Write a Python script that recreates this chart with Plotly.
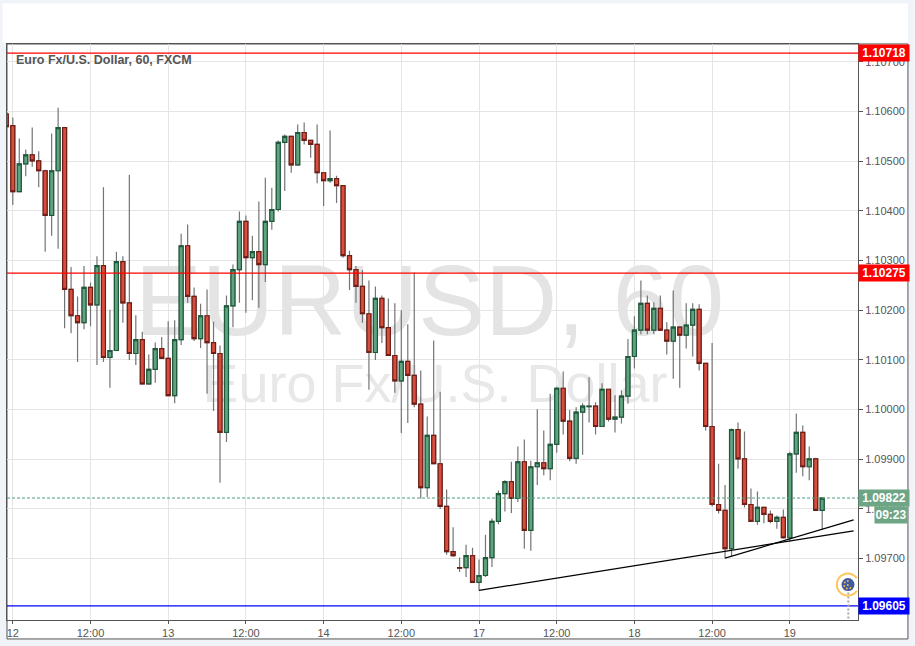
import math
import plotly.graph_objects as go

# EUR/USD hourly bars, first bar is cut off by the left edge
bars = list(range(-1, 126))
opens = [
    1.10595, 1.10572, 1.10439, 1.10495, 1.10513, 1.10501, 1.10481, 1.10391, 1.10481, 1.10568,
    1.10242, 1.10189, 1.10175, 1.10246, 1.10211, 1.10290, 1.10105, 1.10119, 1.10298, 1.10215,
    1.10113, 1.10141, 1.10052, 1.10081, 1.10123, 1.10103, 1.10028, 1.10141, 1.10330, 1.10228,
    1.10143, 1.10189, 1.10135, 1.10113, 1.09954, 1.10209, 1.10282, 1.10379, 1.10306, 1.10318,
    1.10292, 1.10379, 1.10403, 1.10538, 1.10550, 1.10493, 1.10558, 1.10542, 1.10534, 1.10477,
    1.10461, 1.10465, 1.10451, 1.10310, 1.10282, 1.10248, 1.10193, 1.10115, 1.10224, 1.10165,
    1.10109, 1.10058, 1.10097, 1.10069, 1.10011, 1.09843, 1.09948, 1.09891, 1.09805, 1.09714,
    1.09682, 1.09682, 1.09706, 1.09652, 1.09666, 1.09702, 1.09775, 1.09831, 1.09855, 1.09821,
    1.09895, 1.09757, 1.09885, 1.09893, 1.09881, 1.09930, 1.10043, 1.09977, 1.09902, 1.09995,
    1.10006, 1.10007, 1.09966, 1.10041, 1.09981, 1.09985, 1.10027, 1.10107, 1.10160, 1.10214,
    1.10160, 1.10204, 1.10160, 1.10138, 1.10166, 1.10150, 1.10170, 1.10202, 1.10093, 1.09966,
    1.09809, 1.09797, 1.09720, 1.09960, 1.09901, 1.09809, 1.09775, 1.09803, 1.09789, 1.09775,
    1.09783, 1.09742, 1.09911, 1.09954, 1.09885, 1.09901, 1.09797,
]
highs = [
    1.10595, 1.10588, 1.10546, 1.10524, 1.10568, 1.10520, 1.10483, 1.10556, 1.10608, 1.10568,
    1.10287, 1.10228, 1.10289, 1.10256, 1.10309, 1.10448, 1.10201, 1.10318, 1.10309, 1.10473,
    1.10190, 1.10157, 1.10111, 1.10135, 1.10146, 1.10178, 1.10180, 1.10354, 1.10373, 1.10246,
    1.10213, 1.10242, 1.10177, 1.10129, 1.10230, 1.10292, 1.10399, 1.10391, 1.10350, 1.10419,
    1.10467, 1.10447, 1.10542, 1.10554, 1.10550, 1.10574, 1.10578, 1.10542, 1.10574, 1.10477,
    1.10562, 1.10471, 1.10451, 1.10320, 1.10289, 1.10281, 1.10260, 1.10248, 1.10230, 1.10224,
    1.10214, 1.10200, 1.10172, 1.10276, 1.10079, 1.09986, 1.10139, 1.10036, 1.09839, 1.09763,
    1.09702, 1.09728, 1.09722, 1.09698, 1.09748, 1.09781, 1.09837, 1.09858, 1.09895, 1.09926,
    1.09940, 1.09897, 1.10001, 1.09958, 1.10032, 1.10046, 1.10077, 1.09999, 1.10005, 1.10013,
    1.10065, 1.10015, 1.10053, 1.10041, 1.10029, 1.10039, 1.10142, 1.10188, 1.10260, 1.10230,
    1.10216, 1.10230, 1.10176, 1.10240, 1.10168, 1.10214, 1.10214, 1.10212, 1.10093, 1.10134,
    1.09891, 1.09848, 1.09962, 1.09974, 1.09956, 1.09841, 1.09835, 1.09803, 1.09797, 1.09787,
    1.09799, 1.09915, 1.09992, 1.09968, 1.09926, 1.09903, 1.09822,
]
lows = [
    1.10570, 1.10412, 1.10439, 1.10470, 1.10489, 1.10448, 1.10318, 1.10350, 1.10324, 1.10164,
    1.10154, 1.10096, 1.10162, 1.10168, 1.10090, 1.10096, 1.10044, 1.10119, 1.10175, 1.10100,
    1.10090, 1.10052, 1.10050, 1.10054, 1.10103, 1.10028, 1.10013, 1.10130, 1.10215, 1.10138,
    1.10124, 1.10032, 1.09997, 1.09853, 1.09935, 1.10166, 1.10215, 1.10195, 1.10220, 1.10205,
    1.10257, 1.10362, 1.10399, 1.10440, 1.10477, 1.10491, 1.10534, 1.10507, 1.10456, 1.10410,
    1.10457, 1.10416, 1.10306, 1.10241, 1.10215, 1.10175, 1.10040, 1.10100, 1.10134, 1.10109,
    1.10034, 1.09953, 1.09973, 1.10005, 1.09821, 1.09824, 1.09891, 1.09800, 1.09708, 1.09704,
    1.09673, 1.09663, 1.09652, 1.09636, 1.09663, 1.09683, 1.09769, 1.09795, 1.09792, 1.09814,
    1.09720, 1.09716, 1.09848, 1.09868, 1.09858, 1.09913, 1.09950, 1.09896, 1.09891, 1.09909,
    1.09974, 1.09950, 1.09966, 1.09976, 1.09954, 1.09972, 1.10012, 1.10083, 1.10152, 1.10152,
    1.10152, 1.10160, 1.10111, 1.10062, 1.10044, 1.10123, 1.10107, 1.10079, 1.09958, 1.09805,
    1.09791, 1.09700, 1.09705, 1.09881, 1.09803, 1.09775, 1.09768, 1.09771, 1.09771, 1.09760,
    1.09740, 1.09734, 1.09873, 1.09866, 1.09858, 1.09797, 1.09758,
]
closes = [
    1.10570, 1.10439, 1.10495, 1.10513, 1.10501, 1.10481, 1.10391, 1.10481, 1.10568, 1.10242,
    1.10189, 1.10175, 1.10246, 1.10211, 1.10290, 1.10105, 1.10119, 1.10298, 1.10215, 1.10113,
    1.10141, 1.10052, 1.10081, 1.10123, 1.10103, 1.10028, 1.10141, 1.10330, 1.10228, 1.10143,
    1.10189, 1.10135, 1.10113, 1.09954, 1.10209, 1.10282, 1.10379, 1.10306, 1.10318, 1.10292,
    1.10379, 1.10403, 1.10538, 1.10550, 1.10493, 1.10558, 1.10542, 1.10534, 1.10477, 1.10461,
    1.10465, 1.10451, 1.10310, 1.10282, 1.10248, 1.10193, 1.10115, 1.10224, 1.10165, 1.10109,
    1.10058, 1.10097, 1.10069, 1.10011, 1.09843, 1.09948, 1.09891, 1.09805, 1.09714, 1.09706,
    1.09681, 1.09706, 1.09652, 1.09666, 1.09702, 1.09775, 1.09831, 1.09855, 1.09821, 1.09895,
    1.09757, 1.09885, 1.09893, 1.09881, 1.09930, 1.10043, 1.09977, 1.09902, 1.09995, 1.10007,
    1.10007, 1.09966, 1.10041, 1.09981, 1.09985, 1.10027, 1.10107, 1.10160, 1.10214, 1.10160,
    1.10204, 1.10160, 1.10138, 1.10166, 1.10150, 1.10170, 1.10202, 1.10093, 1.09966, 1.09809,
    1.09797, 1.09720, 1.09960, 1.09901, 1.09809, 1.09775, 1.09803, 1.09789, 1.09775, 1.09783,
    1.09742, 1.09911, 1.09954, 1.09885, 1.09901, 1.09797, 1.09822,
]

tick_bars = [0, 12, 24, 36, 48, 60, 72, 84, 96, 108, 120]
tick_labels = ["12", "12:00", "13", "12:00", "14", "12:00", "17", "12:00", "18", "12:00", "19"]
price_ticks = [1.097, 1.098, 1.099, 1.100, 1.101, 1.102, 1.103, 1.104, 1.105, 1.106, 1.107]

resistance = [1.10718, 1.10275]
support = 1.09605
last_price = 1.09822
countdown = "09:23"

trend_a_x = [72, 129.85]
trend_a_y = [1.09636, 1.09756]
trend_b_x = [110, 129.85]
trend_b_y = [1.09701, 1.09778]

X_RANGE = [-0.895, 130.53]
Y_RANGE = [1.095764, 1.107362]

# plot box in page pixels
LEFT, RIGHT, TOP, BOTTOM = 6.5, 858.5, 43.5, 620.5
OUTER_R, OUTER_B = 908.5, 639.5
TICK_FONT = dict(family="Liberation Sans", size=11, color="#555555")
FRAME = "#555555"
GRID = "#e4e4e4"
NO_LINE = dict(width=0)


def px(x):
    return (x - LEFT) / (RIGHT - LEFT)


def py(y):
    return (BOTTOM - y) / (BOTTOM - TOP)


def paper_box(x0, y0, x1, y1, kind="rect", **kw):
    return dict(type=kind, xref="paper", yref="paper",
                x0=px(x0), x1=px(x1), y0=py(y0), y1=py(y1), **kw)


def price_box(text, y, color):
    return dict(xref="paper", yref="y", x=px(RIGHT), y=y, text="<b>%s</b>" % text, showarrow=False,
                xanchor="left", yanchor="middle", width=50, height=16, bgcolor=color, borderpad=0,
                align="center", font=dict(family="Liberation Sans", size=12, color="white"))


fig = go.Figure()

# wicks in grey underneath, bodies with their darker outline on top
fig.add_trace(go.Candlestick(
    x=bars, open=opens, high=highs, low=lows, close=closes,
    increasing=dict(line=dict(color="#757575", width=1.2), fillcolor="#757575"),
    decreasing=dict(line=dict(color="#757575", width=1.2), fillcolor="#757575"),
))
fig.add_trace(go.Candlestick(
    x=bars, open=opens, close=closes,
    high=[max(o, c) for o, c in zip(opens, closes)],
    low=[min(o, c) for o, c in zip(opens, closes)],
    increasing=dict(line=dict(color="#1c5a3b", width=1.2), fillcolor="#61a27f"),
    decreasing=dict(line=dict(color="#6f1d16", width=1.2), fillcolor="#d84e3c"),
))

for level in resistance:
    fig.add_trace(go.Scatter(x=X_RANGE, y=[level, level], mode="lines",
                             line=dict(color="#ff0000", width=1.3)))
fig.add_trace(go.Scatter(x=X_RANGE, y=[support, support], mode="lines",
                         line=dict(color="#0000ff", width=1.3)))
fig.add_trace(go.Scatter(x=X_RANGE, y=[last_price, last_price], mode="lines",
                         line=dict(color="#4f9e78", width=1, dash="3px,2px")))
fig.add_trace(go.Scatter(x=trend_a_x, y=trend_a_y, mode="lines", line=dict(color="#000000", width=1.2)))
fig.add_trace(go.Scatter(x=trend_b_x, y=trend_b_y, mode="lines", line=dict(color="#000000", width=1.2)))

shapes = [
    paper_box(2, 3, OUTER_R, 42, fillcolor="white", line=NO_LINE, layer="below"),
    paper_box(LEFT, TOP, OUTER_R, OUTER_B, fillcolor="white", line=dict(color=FRAME, width=1), layer="below"),
    paper_box(127, 246, 732, 336, line=NO_LINE, layer="below",
              label=dict(text="EURUSD, 60", textposition="middle center",
                         font=dict(family="Liberation Sans", size=100, color="#e4e4e4"))),
    paper_box(190, 348, 680, 408, line=NO_LINE, layer="below",
              label=dict(text="Euro Fx/U.S. Dollar", textposition="middle center",
                         font=dict(family="Liberation Sans", size=54, color="#e8e8e8"))),
    # the little event marker near the bottom right
    dict(type="line", xref="paper", yref="paper", x0=px(848.8), x1=px(848.8), y0=py(593), y1=py(620),
         line=dict(color="#a8a8a8", width=2, dash="2px,2px")),
    paper_box(842, 578.5, 855, 591.5, kind="circle", fillcolor="#3f5aa3", line=NO_LINE),
]
ring = [(848.3 + 11 * math.cos(math.radians(a)), 585 + 11 * math.sin(math.radians(a))) for a in range(35, 326, 10)]
shapes.append(dict(type="path", xref="paper", yref="paper", line=dict(color="#fcc75e", width=2),
                   path="M " + " L ".join("%f,%f" % (px(a), py(b)) for a, b in ring)))
for dx, dy in [(-3, -2), (0, -3.5), (-3.5, 1.5), (-1, 4), (2.5, 3.5), (0, 0.5)]:
    shapes.append(paper_box(848.3 + dx - 1, 585 + dy - 1, 848.3 + dx + 1, 585 + dy + 1,
                            kind="circle", fillcolor="#f0b93c", line=NO_LINE))

annotations = [
    dict(xref="paper", yref="paper", x=px(13.5), y=py(60), text="<b>Euro Fx/U.S. Dollar, 60, FXCM</b>",
         showarrow=False, xanchor="left", yanchor="middle",
         font=dict(family="Liberation Sans", size=12.5, color="#555555")),
    price_box("1.10718", resistance[0], "#ff0000"),
    price_box("1.10275", resistance[1], "#ff0000"),
    price_box("1.09605", support, "#0000ff"),
    price_box("1.09822", last_price, "#6ea585"),
    dict(xref="paper", yref="paper", x=px(OUTER_R), y=py(515), text="<b>%s</b>" % countdown, showarrow=False,
         xanchor="right", yanchor="middle", width=32, height=16, bgcolor="#6ea585", borderpad=0,
         font=dict(family="Liberation Sans", size=12, color="white")),
]

fig.update_layout(
    width=915, height=646, autosize=False,
    margin=dict(l=LEFT, r=915 - RIGHT, t=TOP, b=646 - BOTTOM, pad=0),
    paper_bgcolor="#f0f4f8", plot_bgcolor="rgba(0,0,0,0)",
    showlegend=False, boxmode="overlay", boxgap=0.12,
    shapes=shapes, annotations=annotations,
    xaxis=dict(range=X_RANGE, tickmode="array", tickvals=tick_bars, ticktext=tick_labels,
               rangeslider=dict(visible=False), showgrid=True, gridcolor=GRID, gridwidth=1.2,
               zeroline=False, showline=True, linecolor=FRAME, mirror=True,
               ticks="outside", ticklen=3, tickcolor=FRAME, tickfont=TICK_FONT, tickangle=0),
    yaxis=dict(range=Y_RANGE, side="right", tickmode="array", tickvals=price_ticks,
               ticktext=["%.5f" % p for p in price_ticks], showgrid=True, gridcolor=GRID, gridwidth=1.2,
               zeroline=False, showline=True, linecolor=FRAME, mirror=True,
               ticks="outside", ticklen=4, tickcolor=FRAME, tickfont=TICK_FONT),
)

# the page's default body margin would push the 915 wide figure out of the window
fig.write_html("out.html", config=dict(displayModeBar=False),
               post_script="document.body.style.margin='0';document.documentElement.style.overflow='hidden';")
